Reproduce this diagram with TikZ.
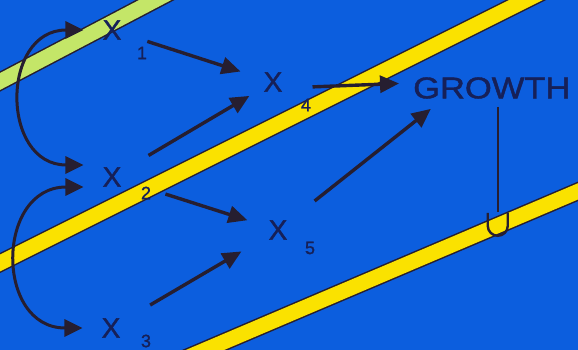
\documentclass[tikz,border=0pt]{standalone}
\usepackage{fontspec}
\setmainfont{Liberation Sans}
\newfontfamily\heavysans[FakeBold=1.3]{Liberation Sans}
\usepackage{xcolor}
\usepackage{tikz}
\usetikzlibrary{arrows.meta, calc}

\definecolor{bgblue}{RGB}{12,94,222}
\definecolor{stripeyellow}{RGB}{250,226,0}
\definecolor{stripegreen}{RGB}{196,230,104}
\definecolor{inkdark}{RGB}{38,30,48}
\definecolor{textnavy}{RGB}{22,32,88}

\begin{document}
\begin{tikzpicture}[x=1pt, y=1pt,
  var/.style={text=textnavy, font=\heavysans\fontsize{28}{28}\selectfont, inner sep=2pt},
  sub/.style={text=textnavy, font=\heavysans\fontsize{18}{18}\selectfont, inner sep=0pt},
  link/.style={draw=inkdark, line width=3.4pt, -{Triangle[length=19pt, width=17pt]}},
  swap/.style={draw=inkdark, line width=3pt, {Triangle[length=18pt, width=17pt]}-{Triangle[length=18pt, width=17pt]}, shorten <=17pt, shorten >=17pt, looseness=1.9},
  fb/.style={draw=inkdark, line width=2.4pt},
  band/.style={line width=1.5pt, draw=inkdark, double=#1, double distance=15pt}
]
% Background
\fill[bgblue] (0,0) rectangle (578,350);
\useasboundingbox (0,0) rectangle (578,350);

% Stripes
\begin{scope}
\clip (0,0) rectangle (578,350);
\draw[band=stripegreen] (-20,258) -- (180,363);
\draw[band=stripeyellow] (-20,77) -- (560,367);
\draw[band=stripeyellow] (180,-10.6) -- (600,168);
\end{scope}

% Variables
\node[var] (x1) at (112,320) {X};
\node[sub] (s1) at (142,297) {1};
\node[var] (x2) at (112,173) {X};
\node[sub] (s2) at (146,157) {2};
\node[var] (x3) at (111,22) {X};
\node[sub] (s3) at (146,9) {3};
\node[var] (x4) at (273,268) {X};
\node[sub] (s4) at (306,245) {4};
\node[var] (x5) at (278,120) {X};
\node[sub] (s5) at (310,102) {5};
\node[var, font=\heavysans\fontsize{30}{30}\selectfont, anchor=west] (growth) at (411,262) {\scalebox{1.15}[1]{GROWTH}};

% Links
\draw[link, shorten <=25pt, shorten >=22pt] (x1) -- (x4);
\draw[link, shorten <=29pt, shorten >=14pt] (x2) -- (x4);
\draw[link, shorten <=44pt, shorten >=20pt] (x2) -- (x5);
\draw[link, shorten <=32pt, shorten >=29pt] (x3) -- (x5);
\draw[link, shorten <=28pt, shorten >=12pt] ([yshift=-6pt]x4.east) -- ([yshift=5pt]growth.west);
\draw[link, shorten <=32pt, shorten >=13pt] (x5) -- ([xshift=30pt]growth.south west);

% Correlations
\draw[swap] (x1.west) to[out=180, in=180] ([yshift=12pt]x2.west);
\draw[swap] ([yshift=-10pt]x2.west) to[out=180, in=180] (x3.west);

% Feedback
\draw[fb, shorten <=6pt] ([xshift=6pt]growth.south) -- ++(0,-111) coordinate (hook);
\draw[fb] (hook) ++(-10,-1) -- ++(0,-13) arc[start angle=180, end angle=360, radius=10] -- ++(0,13);

\end{tikzpicture}
\end{document}
